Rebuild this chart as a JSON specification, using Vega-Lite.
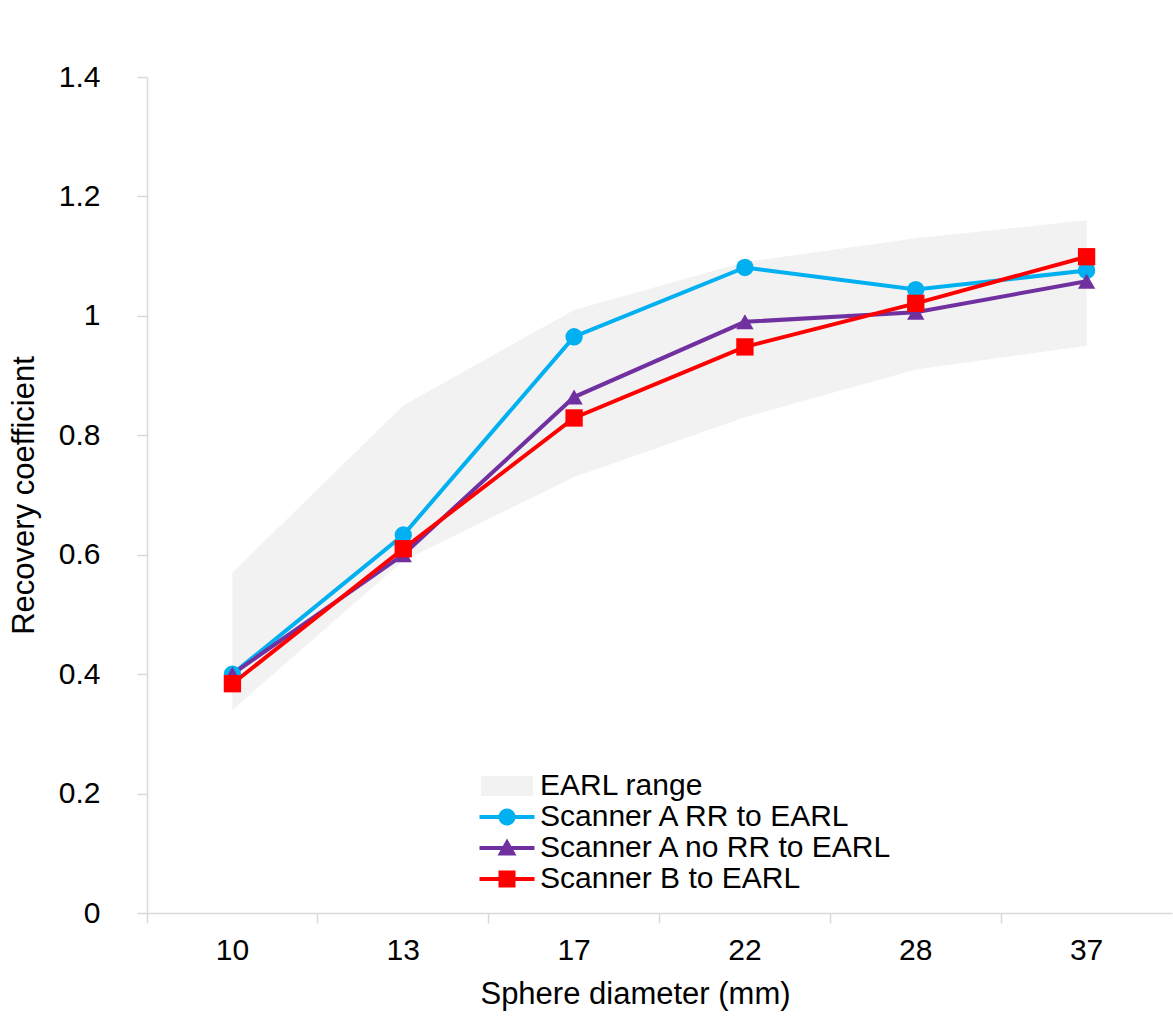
{
  "$schema": "https://vega.github.io/schema/vega-lite/v6.json",
  "width": 1025,
  "height": 836,
  "autosize": {"type": "none"},
  "padding": {"left": 147, "top": 77, "right": 1, "bottom": 105},
  "background": "white",
  "config": {
    "view": {"stroke": null},
    "font": "Liberation Sans",
    "axis": {
      "grid": false,
      "domainColor": "#d9d9d9",
      "domainWidth": 1.5,
      "tickColor": "#d9d9d9",
      "tickWidth": 1.5,
      "tickSize": 10,
      "labelFont": "Liberation Sans",
      "labelFontSize": 30,
      "labelColor": "#000000",
      "titleFont": "Liberation Sans",
      "titleFontSize": 31,
      "titleFontWeight": "normal",
      "titleColor": "#000000"
    },
    "legend": {
      "title": null,
      "orient": "none",
      "legendX": 345,
      "legendY": 694,
      "padding": 0,
      "symbolSize": 400,
      "symbolOffset": 0,
      "labelOffset": 18,
      "labelFontSize": 30,
      "labelFont": "Liberation Sans",
      "labelColor": "#000000",
      "labelLimit": 600,
      "rowPadding": 1
    }
  },
  "datasets": {
    "earl": [
      {"d": 10, "lo": 0.34, "hi": 0.57},
      {"d": 13, "lo": 0.59, "hi": 0.85},
      {"d": 17, "lo": 0.73, "hi": 1.01},
      {"d": 22, "lo": 0.83, "hi": 1.09},
      {"d": 28, "lo": 0.91, "hi": 1.13},
      {"d": 37, "lo": 0.95, "hi": 1.16}
    ],
    "series": [
      {"d": 10, "series": "Scanner A RR to EARL", "rc": 0.40},
      {"d": 13, "series": "Scanner A RR to EARL", "rc": 0.633},
      {"d": 17, "series": "Scanner A RR to EARL", "rc": 0.965},
      {"d": 22, "series": "Scanner A RR to EARL", "rc": 1.081},
      {"d": 28, "series": "Scanner A RR to EARL", "rc": 1.044},
      {"d": 37, "series": "Scanner A RR to EARL", "rc": 1.076},
      {"d": 10, "series": "Scanner A no RR to EARL", "rc": 0.40},
      {"d": 13, "series": "Scanner A no RR to EARL", "rc": 0.60},
      {"d": 17, "series": "Scanner A no RR to EARL", "rc": 0.864},
      {"d": 22, "series": "Scanner A no RR to EARL", "rc": 0.99},
      {"d": 28, "series": "Scanner A no RR to EARL", "rc": 1.006},
      {"d": 37, "series": "Scanner A no RR to EARL", "rc": 1.058},
      {"d": 10, "series": "Scanner B to EARL", "rc": 0.384},
      {"d": 13, "series": "Scanner B to EARL", "rc": 0.61},
      {"d": 17, "series": "Scanner B to EARL", "rc": 0.829},
      {"d": 22, "series": "Scanner B to EARL", "rc": 0.948},
      {"d": 28, "series": "Scanner B to EARL", "rc": 1.021},
      {"d": 37, "series": "Scanner B to EARL", "rc": 1.099}
    ]
  },
  "layer": [
    {
      "data": {"name": "earl"},
      "mark": {"type": "area", "opacity": 1},
      "encoding": {
        "x": {
          "field": "d",
          "type": "ordinal",
          "bandPosition": 0.5,
          "scale": {"type": "band", "paddingInner": 0, "paddingOuter": 0},
          "title": "Sphere diameter (mm)",
          "axis": {
            "labelAngle": 0,
            "bandPosition": 0,
            "labelPadding": 12,
            "titlePadding": 14,
            "titleX": 488,
            "encode": {"ticks": {"update": {"y": {"value": -10}, "y2": {"value": 10}}}}
          }
        },
        "y": {
          "field": "lo",
          "type": "quantitative",
          "scale": {"domain": [0, 1.4], "nice": false, "zero": true},
          "title": "Recovery coefficient",
          "axis": {
            "values": [0, 0.2, 0.4, 0.6, 0.8, 1, 1.2, 1.4],
            "format": "~g",
            "labelPadding": 37,
            "titlePadding": 18,
            "encode": {"ticks": {"update": {"x": {"value": 10}, "x2": {"value": -10}}}}
          }
        },
        "y2": {"field": "hi"},
        "color": {
          "datum": "EARL range",
          "type": "nominal",
          "scale": {
            "domain": ["EARL range", "Scanner A RR to EARL", "Scanner A no RR to EARL", "Scanner B to EARL"],
            "range": ["#f2f2f2", "#00b0f0", "#7030a0", "#ff0000"]
          },
          "legend": {
            "title": null,
            "encode": {
              "symbols": {
                "update": {
                  "shape": {"signal": "datum.value === 'EARL range' ? 'M-2.6,-1H2.6V1H-2.6Z' : datum.value === 'Scanner A RR to EARL' ? 'M-2.75,-0.2H2.75V0.2H-2.75Z M0.85,0A0.85,0.85,0,1,1,-0.85,0A0.85,0.85,0,1,1,0.85,0Z' : datum.value === 'Scanner A no RR to EARL' ? 'M-2.75,-0.2H2.75V0.2H-2.75Z M0,-0.95L0.95,0.75H-0.95Z' : 'M-2.75,-0.2H2.75V0.2H-2.75Z M-0.85,-0.85H0.85V0.85H-0.85Z'"},
                  "fill": {"scale": "color", "field": "value"},
                  "stroke": {"value": "transparent"},
                  "strokeWidth": {"value": 0},
                  "opacity": {"value": 1}
                }
              }
            }
          }
        }
      }
    },
    {
      "data": {"name": "series"},
      "mark": {"type": "line", "strokeWidth": 4},
      "encoding": {
        "x": {"field": "d", "type": "ordinal", "bandPosition": 0.5},
        "y": {"field": "rc", "type": "quantitative"},
        "color": {
          "field": "series",
          "type": "nominal",
          "legend": {
            "title": null,
            "encode": {
              "symbols": {
                "update": {
                  "shape": {"signal": "datum.value === 'EARL range' ? 'M-2.6,-1H2.6V1H-2.6Z' : datum.value === 'Scanner A RR to EARL' ? 'M-2.75,-0.2H2.75V0.2H-2.75Z M0.85,0A0.85,0.85,0,1,1,-0.85,0A0.85,0.85,0,1,1,0.85,0Z' : datum.value === 'Scanner A no RR to EARL' ? 'M-2.75,-0.2H2.75V0.2H-2.75Z M0,-0.95L0.95,0.75H-0.95Z' : 'M-2.75,-0.2H2.75V0.2H-2.75Z M-0.85,-0.85H0.85V0.85H-0.85Z'"},
                  "fill": {"scale": "color", "field": "value"},
                  "stroke": {"value": "transparent"},
                  "strokeWidth": {"value": 0},
                  "opacity": {"value": 1}
                }
              }
            }
          }
        }
      }
    },
    {
      "data": {"name": "series"},
      "mark": {"type": "point", "filled": true, "opacity": 1, "size": 300},
      "encoding": {
        "x": {"field": "d", "type": "ordinal", "bandPosition": 0.5},
        "y": {"field": "rc", "type": "quantitative"},
        "color": {
          "field": "series",
          "type": "nominal",
          "legend": {
            "title": null,
            "encode": {
              "symbols": {
                "update": {
                  "shape": {"signal": "datum.value === 'EARL range' ? 'M-2.6,-1H2.6V1H-2.6Z' : datum.value === 'Scanner A RR to EARL' ? 'M-2.75,-0.2H2.75V0.2H-2.75Z M0.85,0A0.85,0.85,0,1,1,-0.85,0A0.85,0.85,0,1,1,0.85,0Z' : datum.value === 'Scanner A no RR to EARL' ? 'M-2.75,-0.2H2.75V0.2H-2.75Z M0,-0.95L0.95,0.75H-0.95Z' : 'M-2.75,-0.2H2.75V0.2H-2.75Z M-0.85,-0.85H0.85V0.85H-0.85Z'"},
                  "fill": {"scale": "color", "field": "value"},
                  "stroke": {"value": "transparent"},
                  "strokeWidth": {"value": 0},
                  "opacity": {"value": 1}
                }
              }
            }
          }
        },
        "shape": {
          "field": "series",
          "type": "nominal",
          "scale": {
            "domain": ["Scanner A RR to EARL", "Scanner A no RR to EARL", "Scanner B to EARL"],
            "range": ["circle", "triangle-up", "square"]
          },
          "legend": null
        }
      }
    }
  ]
}
